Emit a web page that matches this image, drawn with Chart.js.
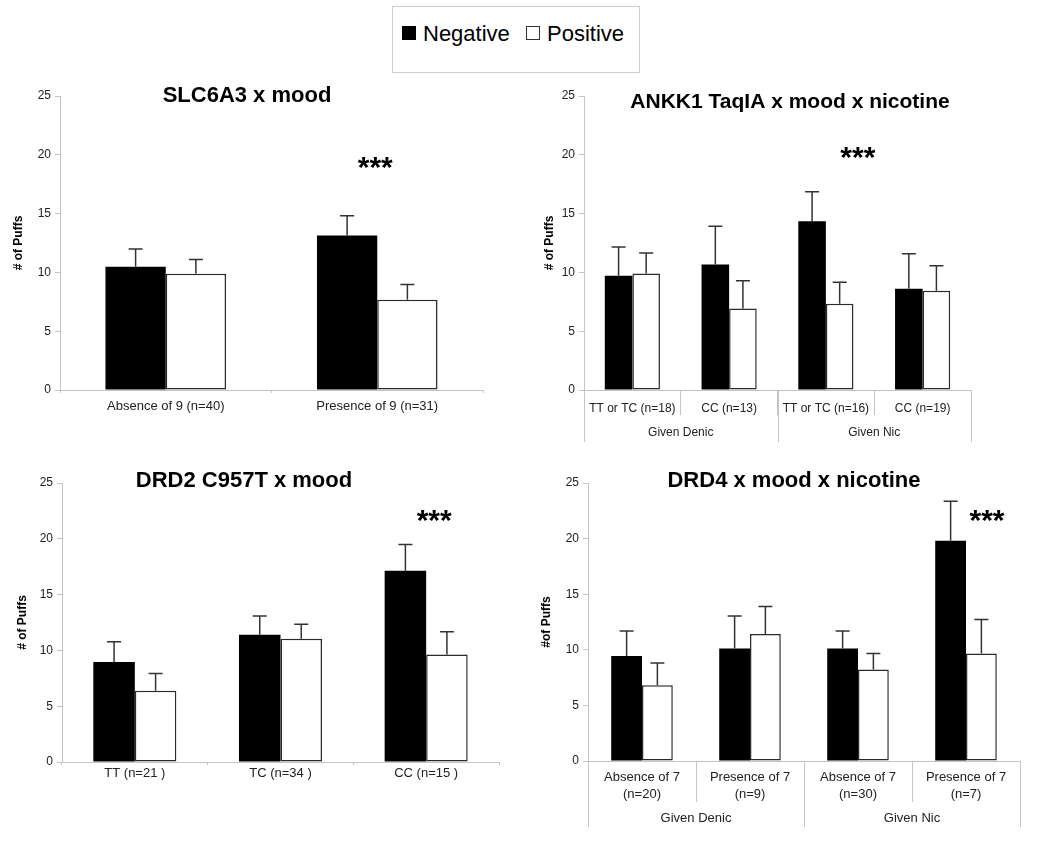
<!DOCTYPE html>
<html>
<head>
<meta charset="utf-8">
<title>Puffs by genotype and mood</title>
<script src="https://cdn.jsdelivr.net/npm/chart.js@4.4.1/dist/chart.umd.min.js"></script>
<style>
	body { margin: 0; background: #fff; font-family: "Liberation Sans", Arial, sans-serif; }
	#page { position: relative; width: 1050px; height: 857px; overflow: hidden; }
	.panel { position: absolute; }
	#legend { position: absolute; left: 392px; top: 6px; width: 246px; height: 65px; border: 1px solid #cfcfcf; background: #fff; }
	#legend .item { position: absolute; top: 14px; font-size: 22px; color: #000; white-space: nowrap; }
	#legend .swatch { display: inline-block; width: 14px; height: 14px; margin-right: 7px; vertical-align: 1px; box-sizing: border-box; border: 1px solid #000; }
</style>
</head>
<body>
<div id="page">
	<div id="legend"></div>
	<div class="panel" id="p1"><canvas id="c1"></canvas></div>
	<div class="panel" id="p2"><canvas id="c2"></canvas></div>
	<div class="panel" id="p3"><canvas id="c3"></canvas></div>
	<div class="panel" id="p4"><canvas id="c4"></canvas></div>
</div>
<script>
// series
var seriesNames = ["Negative", "Positive"];
var seriesFill = ["#000000", "#ffffff"];

// SLC6A3 x mood
var slcLabels = ["Absence of 9 (n=40)", "Presence of 9 (n=31)"];
var slcNegative = [10.48, 13.14];
var slcNegativeSE = [1.5, 1.67];
var slcPositive = [9.88, 7.67];
var slcPositiveSE = [1.22, 1.31];

// ANKK1 TaqIA x mood x nicotine
var ankkLabels = ["TT or TC (n=18)", "CC (n=13)", "TT or TC (n=16)", "CC (n=19)"];
var ankkGroups = ["Given Denic", "Given Nic"];
var ankkNegative = [9.71, 10.67, 14.35, 8.61];
var ankkNegativeSE = [2.46, 3.26, 2.5, 2.97];
var ankkPositive = [9.91, 6.94, 7.33, 8.44];
var ankkPositiveSE = [1.75, 2.35, 1.84, 2.12];

// DRD2 C957T x mood
var drd2Labels = ["TT (n=21 )", "TC (n=34 )", "CC (n=15 )"];
var drd2Negative = [8.95, 11.41, 17.13];
var drd2NegativeSE = [1.83, 1.67, 2.36];
var drd2Positive = [6.38, 11.05, 9.64];
var drd2PositiveSE = [1.55, 1.29, 2.04];

// DRD4 x mood x nicotine
var drd4Labels = [["Absence of 7", "(n=20)"], ["Presence of 7", "(n=9)"], ["Absence of 7", "(n=30)"], ["Presence of 7", "(n=7)"]];
var drd4Groups = ["Given Denic", "Given Nic"];
var drd4Negative = [9.45, 10.11, 10.11, 19.81];
var drd4NegativeSE = [2.25, 2.92, 1.59, 3.54];
var drd4Positive = [6.81, 11.43, 8.22, 9.66];
var drd4PositiveSE = [2.01, 2.47, 1.44, 3.07];

var yMin = 0, yMax = 25, yStep = 5;
var axisGray = "#c4c4c4";
var textColor = "#222";

// legend
var legend = document.getElementById("legend");
var legendLeft = [9, 133];
for (var i = 0; i < seriesNames.length; i++) {
	var item = document.createElement("div");
	item.className = "item";
	item.style.left = legendLeft[i] + "px";
	var sw = document.createElement("span");
	sw.className = "swatch";
	sw.style.background = seriesFill[i];
	sw.style.borderColor = i == 0 ? "#000" : "#333";
	item.appendChild(sw);
	item.appendChild(document.createTextNode(seriesNames[i]));
	legend.appendChild(item);
}

// error bars, titles, *** and the grouped second axis row
var decor = {
	id: "decor",
	afterDatasetsDraw: function(chart) {
		var ctx = chart.ctx;
		var yScale = chart.scales.y;
		ctx.save();
		ctx.strokeStyle = "#333";
		ctx.lineWidth = 1.5;
		chart.data.datasets.forEach(function(ds, di) {
			var meta = chart.getDatasetMeta(di);
			meta.data.forEach(function(bar, j) {
				var top = yScale.getPixelForValue(ds.data[j] + ds.errors[j]);
				ctx.beginPath();
				ctx.moveTo(bar.x, bar.y);
				ctx.lineTo(bar.x, top);
				ctx.moveTo(bar.x - 7, top);
				ctx.lineTo(bar.x + 7, top);
				ctx.stroke();
			});
		});
		ctx.restore();
	},
	afterDraw: function(chart) {
		var o = chart.options.plugins.decor;
		var ctx = chart.ctx;
		var xScale = chart.scales.x;
		var yScale = chart.scales.y;
		var area = chart.chartArea;
		ctx.save();

		ctx.fillStyle = "#000";
		ctx.textAlign = "center";
		ctx.textBaseline = "alphabetic";
		ctx.font = "bold " + o.titleSize + "px 'Liberation Sans', Arial, sans-serif";
		ctx.fillText(o.title, o.titleX, o.titleY);

		ctx.font = "bold 30px 'Liberation Sans', Arial, sans-serif";
		var sx = xScale.getPixelForValue(o.star.index) + o.star.dx;
		var sy = yScale.getPixelForValue(o.star.value) + 0.575 * 30;
		ctx.fillText("***", sx, sy);

		if (o.groups) {
			var n = chart.data.labels.length;
			var catW = (xScale.right - xScale.left) / n;
			var per = n / o.groups.length;
			ctx.strokeStyle = axisGray;
			ctx.lineWidth = 1;
			ctx.fillStyle = textColor;
			ctx.textBaseline = "middle";
			ctx.font = o.groupFont + "px 'Liberation Sans', Arial, sans-serif";
			for (var g = 0; g <= o.groups.length; g++) {
				var gx = Math.round(xScale.left + g * per * catW) + 0.5;
				ctx.beginPath();
				ctx.moveTo(gx, area.bottom);
				ctx.lineTo(gx, area.bottom + o.groupLine);
				ctx.stroke();
			}
			for (var g = 0; g < o.groups.length; g++) {
				var cx = xScale.left + (g + 0.5) * per * catW;
				ctx.fillText(o.groups[g], cx, area.bottom + o.groupLabel);
			}
		}
		ctx.restore();
	}
};

function makePanel(p) {
	var holder = document.getElementById(p.id);
	holder.style.left = p.left + "px";
	holder.style.top = p.top + "px";
	var canvas = holder.querySelector("canvas");
	canvas.width = p.width;
	canvas.height = p.height;

	var data = {
		labels: p.labels,
		datasets: [
			{
				label: seriesNames[0],
				data: p.neg,
				errors: p.negSE,
				backgroundColor: seriesFill[0],
				borderColor: "#000",
				borderWidth: 0,
				categoryPercentage: 0.57,
				barPercentage: 1
			},
			{
				label: seriesNames[1],
				data: p.pos,
				errors: p.posSE,
				backgroundColor: seriesFill[1],
				borderColor: "#2a2a2a",
				borderWidth: 1.5,
				borderSkipped: false,
				categoryPercentage: 0.57,
				barPercentage: 1
			}
		]
	};

	var options = {
		responsive: false,
		animation: false,
		layout: { padding: { top: p.padTop, right: p.padRight, left: 0, bottom: 0 } },
		plugins: {
			legend: { display: false },
			tooltip: { enabled: false },
			decor: p.decor
		},
		scales: {
			x: {
				offset: true,
				grid: { offset: true, drawOnChartArea: false, tickLength: p.tickLength, color: axisGray },
				border: { color: axisGray },
				ticks: { padding: p.labelPad, color: textColor, font: { size: p.labelFont, lineHeight: p.labelLine || 1.2, family: "'Liberation Sans', Arial, sans-serif" }, maxRotation: 0, autoSkip: false },
				afterFit: function(s) { s.height = p.xHeight; }
			},
			y: {
				min: yMin,
				max: yMax,
				ticks: { stepSize: yStep, padding: 4, color: textColor, font: { size: 12, family: "'Liberation Sans', Arial, sans-serif" } },
				grid: { drawOnChartArea: false, tickLength: 5, color: axisGray },
				border: { color: axisGray },
				title: { display: true, text: p.yTitle, color: "#000", font: { size: 12, weight: "bold", family: "'Liberation Sans', Arial, sans-serif" }, padding: { top: p.yTitlePad } },
				afterFit: function(s) { s.width = p.yWidth; }
			}
		}
	};

	return new Chart(canvas, { type: "bar", data: data, options: options, plugins: [decor] });
}

makePanel({
	id: "p1", left: 0, top: 80, width: 520, height: 340,
	labels: slcLabels, neg: slcNegative, negSE: slcNegativeSE, pos: slcPositive, posSE: slcPositiveSE,
	padTop: 16, padRight: 37, yWidth: 60, xHeight: 30, yTitle: "# of Puffs", yTitlePad: 11,
	tickLength: 3, labelPad: 6, labelFont: 13,
	decor: { title: "SLC6A3 x mood", titleSize: 22, titleX: 247, titleY: 22, star: { index: 1, value: 19.6, dx: -2 } }
});

makePanel({
	id: "p2", left: 520, top: 80, width: 530, height: 370,
	labels: ankkLabels, neg: ankkNegative, negSE: ankkNegativeSE, pos: ankkPositive, posSE: ankkPositiveSE,
	padTop: 16, padRight: 79, yWidth: 64, xHeight: 60, yTitle: "# of Puffs", yTitlePad: 22,
	tickLength: 25, labelPad: -14, labelFont: 12,
	decor: { title: "ANKK1 TaqIA x mood x nicotine", titleSize: 21, titleX: 270, titleY: 28, star: { index: 2, value: 20.4, dx: 32 },
		groups: ankkGroups, groupLine: 52, groupLabel: 43, groupFont: 12 }
});

makePanel({
	id: "p3", left: 0, top: 460, width: 520, height: 330,
	labels: drd2Labels, neg: drd2Negative, negSE: drd2NegativeSE, pos: drd2Positive, posSE: drd2PositiveSE,
	padTop: 23, padRight: 21, yWidth: 62, xHeight: 28, yTitle: "# of Puffs", yTitlePad: 15,
	tickLength: 3, labelPad: 1, labelFont: 13,
	decor: { title: "DRD2 C957T x mood", titleSize: 22, titleX: 244, titleY: 27, star: { index: 2, value: 22.3, dx: 8 } }
});

makePanel({
	id: "p4", left: 520, top: 460, width: 530, height: 370,
	labels: drd4Labels, neg: drd4Negative, negSE: drd4NegativeSE, pos: drd4Positive, posSE: drd4PositiveSE,
	padTop: 23, padRight: 30, yWidth: 68, xHeight: 69, yTitle: "#of Puffs", yTitlePad: 19,
	tickLength: 41, labelPad: -33, labelFont: 13, labelLine: 1.3,
	decor: { title: "DRD4 x mood x nicotine", titleSize: 22, titleX: 274, titleY: 27, star: { index: 3, value: 22.3, dx: 21 },
		groups: drd4Groups, groupLine: 66, groupLabel: 57, groupFont: 13 }
});
</script>
</body>
</html>
